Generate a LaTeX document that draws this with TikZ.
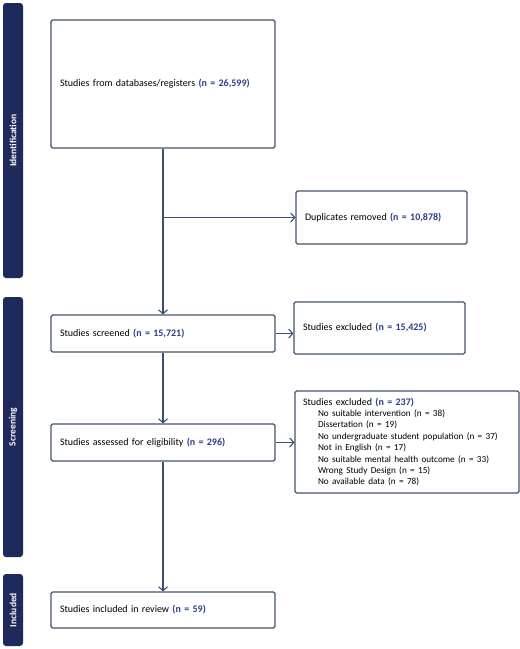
\documentclass[tikz,border=0pt]{standalone}
\usepackage{fontspec}
\setmainfont{Carlito}
\usetikzlibrary{arrows.meta}
\definecolor{navy}{HTML}{1F2A5C}
\definecolor{boxline}{HTML}{44546A}
\definecolor{conn}{HTML}{3B4F72}
\definecolor{numblue}{HTML}{2E3C8A}
\newcommand{\nb}[1]{\textbf{\color{numblue}#1}}
\newcommand{\itm}{\hspace*{15pt}}
\begin{document}
\begin{tikzpicture}[x=1pt,y=-1pt,
  box/.style={draw=boxline,line width=1.1pt,rounded corners=1.5pt,fill=white,
    inner xsep=9pt,inner ysep=0pt,align=left,font=\fontsize{10}{11.4}\selectfont},
  bar/.style={fill=navy,rounded corners=3pt,draw=none,minimum width=20pt,inner sep=0pt},
  barlabel/.style={text=white,font=\bfseries\fontsize{9.5}{10}\selectfont,rotate=90},
  conn/.style={draw=conn,line width=1.1pt},
  arr/.style={conn,-{Straight Barb[length=4pt,width=9pt,line width=1.1pt]}}]
\useasboundingbox (0,0) rectangle (520,649);
% side bars
\node[bar,minimum height=275pt] (bid) at (13,140.5) {};
\node[barlabel] (lid) at (bid.center) {Identification};
\node[bar,minimum height=260pt] (bsc) at (13,427) {};
\node[barlabel] (lsc) at (bsc.center) {Screening};
\node[bar,minimum height=72pt] (bin) at (13,610) {};
\node[barlabel] (lin) at (bin.center) {Included};
% boxes
\node[box,minimum width=224pt,minimum height=128pt,text width=206pt] (db) at (163,84)
  {Studies from databases/registers \nb{(n = 26,599)}};
\node[box,minimum width=171pt,minimum height=53pt,text width=153pt] (dup) at (381.5,217.5)
  {Duplicates removed \nb{(n = 10,878)}};
\node[box,minimum width=224pt,minimum height=37pt,text width=206pt] (scr) at (163,333.5)
  {Studies screened \nb{(n = 15,721)}};
\node[box,minimum width=171pt,minimum height=52pt,text width=153pt] (ex1) at (379.5,328)
  {Studies excluded \nb{(n = 15,425)}};
\node[box,minimum width=224pt,minimum height=37pt,text width=206pt] (ass) at (163,442.5)
  {Studies assessed for eligibility \nb{(n = 296)}};
\node[box,minimum width=224pt,minimum height=102pt,text width=208pt,inner xsep=8pt] (ex2) at (407,442)
  {Studies excluded \nb{(n = 237)}\\
  {\fontsize{9.2}{11.4}\selectfont
  \itm No suitable intervention (n = 38)\\
  \itm Dissertation (n = 19)\\
  \itm No undergraduate student population (n = 37)\\
  \itm Not in English (n = 17)\\
  \itm No suitable mental health outcome (n = 33)\\
  \itm Wrong Study Design (n = 15)\\
  \itm No available data (n = 78)}};
\node[box,minimum width=224pt,minimum height=36pt,text width=206pt] (inc) at (163,610)
  {Studies included in review \nb{(n = 59)}};
% connectors
\coordinate (br) at (163,217.5);
\draw[arr] (db.south) -- (scr.north);
\draw[arr] (br) -- (dup.west);
\draw[arr] (scr.east) -- (scr.east -| ex1.west);
\draw[arr] (scr.south) -- (ass.north);
\draw[arr] (ass.east) -- (ass.east -| ex2.west);
\draw[arr] (ass.south) -- (inc.north);
\end{tikzpicture}
\end{document}
